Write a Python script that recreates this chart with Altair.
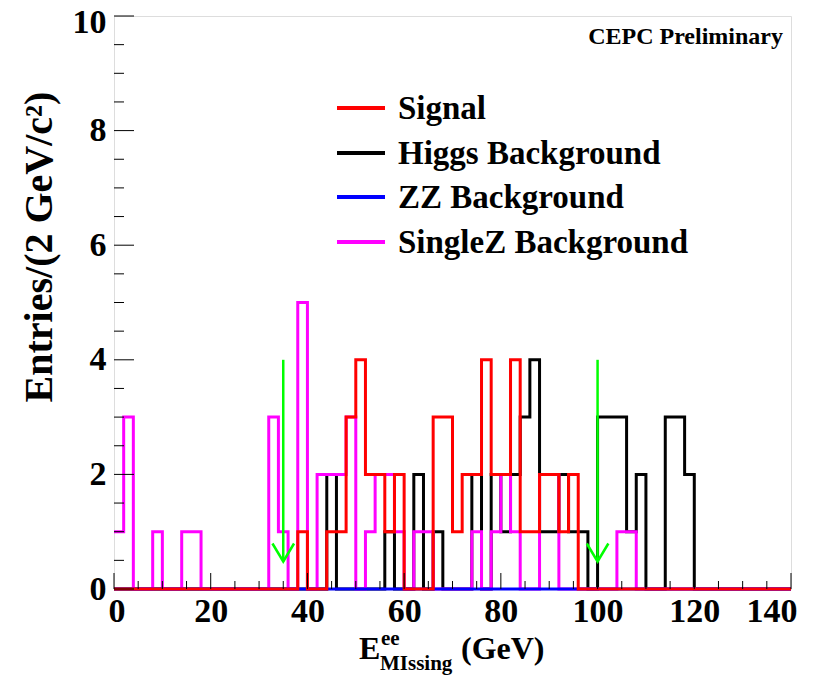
import altair as alt
import pandas as pd

# ---------------- data (2 GeV bins from 0 to 140 GeV) ----------------
bin_low = list(range(0, 140, 2))

signal = [
    0, 0, 0, 0, 0, 0, 0, 0, 0, 0,
    0, 0, 0, 0, 0, 0, 0, 0, 0, 1,
    0, 0, 1, 1, 3, 4, 2, 2, 1, 2,
    0, 0, 0, 3, 3, 1, 2, 2, 4, 2,
    2, 4, 1, 1, 2, 2, 1, 2, 0, 0,
    0, 0, 0, 0, 0, 0, 0, 0, 0, 0,
    0, 0, 0, 0, 0, 0, 0, 0, 0, 0,
]
higgs = [
    0, 0, 0, 0, 0, 0, 0, 0, 0, 0,
    0, 0, 0, 0, 0, 0, 0, 0, 0, 0,
    0, 0, 2, 0, 0, 0, 0, 0, 1, 0,
    0, 2, 0, 1, 0, 0, 0, 2, 0, 2,
    1, 2, 3, 4, 1, 1, 2, 1, 1, 0,
    3, 3, 3, 1, 2, 0, 0, 3, 3, 2,
    0, 0, 0, 0, 0, 0, 0, 0, 0, 0,
]
zz = [0] * 70
singlez = [
    1, 3, 0, 0, 1, 0, 0, 1, 1, 0,
    0, 0, 0, 0, 0, 0, 3, 1, 0, 5,
    0, 2, 2, 2, 3, 0, 1, 2, 2, 1,
    0, 1, 1, 0, 0, 0, 0, 1, 0, 1,
    2, 1, 0, 0, 2, 2, 0, 0, 0, 0,
    0, 0, 1, 1, 0, 0, 0, 0, 0, 0,
    0, 0, 0, 0, 0, 0, 0, 0, 0, 0,
]

cut_values = [35, 100]
arrow_top = 4.0
arrow_tip = 0.48

legend_labels = ["Signal", "Higgs Background", "ZZ Background", "SingleZ Background"]
legend_colors = ["#ff0000", "#000000", "#0000ff", "#ff00ff"]

x_major = [0, 20, 40, 60, 80, 100, 120, 140]
x_minor = [v for v in range(0, 141, 5) if v % 20 != 0]
y_major = [0, 2, 4, 6, 8, 10]
y_minor = [v / 2 for v in range(0, 21) if v % 4 != 0]

# ---------------- layout ----------------
W, H = 677, 573
FONT = "Liberation Serif"

xs = alt.Scale(domain=[0, 140], nice=False, zero=False)
ys = alt.Scale(domain=[0, 10], nice=False, zero=False)

XAX = alt.Axis(values=x_major, title=None, ticks=False, domain=False, grid=False,
               labelFont=FONT, labelFontWeight="bold", labelFontSize=34,
               labelPadding=5, labelColor="black", labelFlush=True, labelFlushOffset=6,
               labelOverlap=False)
YAX = alt.Axis(values=y_major, title=None, ticks=False, domain=False, grid=False,
               labelFont=FONT, labelFontWeight="bold", labelFontSize=34,
               labelPadding=8, labelColor="black", labelFlush=False, labelOverlap=False,
               labelOffset={"condition": {"test": "datum.value == 10", "value": 6}, "value": 0})


def steps(counts):
    return pd.DataFrame({"x": bin_low + [140], "y": counts + [counts[-1]]})


def hist_layer(counts, color):
    return alt.Chart(steps(counts)).mark_line(
        interpolate="step-after", color=color, strokeWidth=3, strokeJoin="miter"
    ).encode(
        x=alt.X("x:Q", scale=xs, axis=XAX),
        y=alt.Y("y:Q", scale=ys, axis=YAX),
    )


layers = []
layers.append(hist_layer(higgs, "#000000"))
layers.append(hist_layer(singlez, "#ff00ff"))
layers.append(hist_layer(zz, "#0000ff"))
layers.append(hist_layer(signal, "#ff0000"))


# ticks drawn inside the frame (ROOT style)
def xticks(vals, length):
    return alt.Chart(pd.DataFrame({"x": vals})).mark_rule(color="black", strokeWidth=1).encode(
        x=alt.X("x:Q", scale=xs, axis=XAX),
        y=alt.value(H), y2=alt.value(H - length))


def yticks(vals, length):
    return alt.Chart(pd.DataFrame({"y": vals})).mark_rule(color="black", strokeWidth=1).encode(
        y=alt.Y("y:Q", scale=ys, axis=YAX),
        x=alt.value(0), x2=alt.value(length))


layers += [xticks(x_major, 16), xticks(x_minor, 8), yticks(y_major, 20), yticks(y_minor, 10)]

# cut arrows
cuts = pd.DataFrame({"x": cut_values, "y": [arrow_top] * len(cut_values),
                     "tip": [arrow_tip] * len(cut_values)})
layers.append(alt.Chart(cuts).mark_rule(color="#00ff00", strokeWidth=2.5).encode(
    x=alt.X("x:Q", scale=xs, axis=XAX),
    y=alt.Y("y:Q", scale=ys, axis=YAX), y2="tip:Q"))
layers.append(alt.Chart(cuts).mark_point(
    shape="M -0.6 -1 L 0 0 L 0.6 -1", filled=False, size=1296,
    strokeWidth=2.5, color="#00ff00", opacity=1
).encode(x=alt.X("x:Q", scale=xs, axis=XAX), y=alt.Y("tip:Q", scale=ys, axis=YAX)))

# legend
row_y = [92, 137, 181, 226]
for lab, col, yy in zip(legend_labels, legend_colors, row_y):
    base = alt.Chart(pd.DataFrame({"l": [lab]}))
    layers.append(base.mark_rule(color=col, strokeWidth=4).encode(
        x=alt.value(223), x2=alt.value(271), y=alt.value(yy)))
    layers.append(base.mark_text(font=FONT, fontWeight="bold", fontSize=33, align="left",
                                 baseline="middle", color="black").encode(
        x=alt.value(284), y=alt.value(yy + 1), text="l:N"))

# CEPC label
layers.append(alt.Chart(pd.DataFrame({"t": ["CEPC Preliminary"]})).mark_text(
    font=FONT, fontWeight="bold", fontSize=24, align="right", baseline="middle", color="black"
).encode(x=alt.value(669), y=alt.value(21), text="t:N"))

# y title
layers.append(alt.Chart(pd.DataFrame({"t": ["Entries/(2 GeV/c²)"]})).mark_text(
    font=FONT, fontWeight="bold", fontSize=40, angle=270, align="center", baseline="middle",
    color="black"
).encode(x=alt.value(-74), y=alt.value(231), text="t:N"))


# x title with super/subscript
def ptext(t, x, y, size, align="left"):
    return alt.Chart(pd.DataFrame({"t": [t]})).mark_text(
        font=FONT, fontWeight="bold", fontSize=size, align=align, baseline="alphabetic",
        color="black").encode(x=alt.value(x), y=alt.value(y), text="t:N")


layers += [
    ptext("E", 245, 643, 32),
    ptext("ee", 267, 629, 21),
    ptext("MIssing", 266, 654, 21),
    ptext("(GeV)", 347, 643, 32),
]

chart = alt.layer(*layers).properties(
    width=W, height=H,
    autosize=alt.AutoSizeParams(type="none"),
    padding={"left": 106, "top": 8, "right": 20, "bottom": 86},
).configure_view(stroke="black", strokeWidth=2).configure(background="white")

chart.save("out.html", embed_options={"renderer": "svg", "actions": False})
